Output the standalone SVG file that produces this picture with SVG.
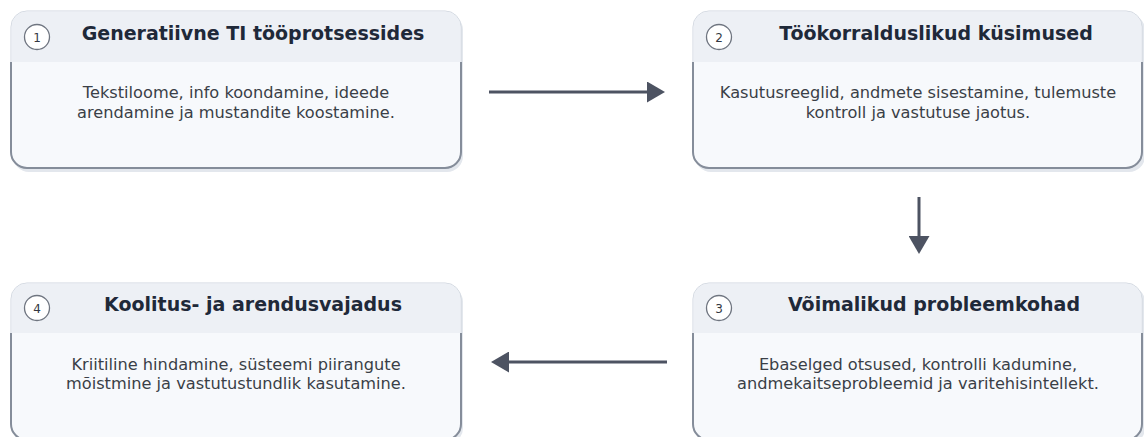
<svg xmlns="http://www.w3.org/2000/svg" width="1144" height="437" viewBox="0 0 1144 437">
<style>
.shadow{fill:#e3e7ed;}
.card{fill:#f7f9fc;stroke:#cfd5de;stroke-width:1;}
.hdr{fill:#edf0f5;}
.edge{fill:none;stroke:#858d9a;stroke-width:2;}
.num{fill:#ffffff;stroke:#6f7580;stroke-width:1.3;}
.numt{font-family:"DejaVu Sans",sans-serif;font-size:12px;fill:#333842;text-anchor:middle;}
.title{font-family:"DejaVu Sans",sans-serif;font-weight:bold;font-size:19px;fill:#1f2939;text-anchor:middle;}
.body{font-family:"DejaVu Sans",sans-serif;font-size:16.2px;fill:#3a3f47;text-anchor:middle;}
.conn{stroke:#4d5362;stroke-width:3;fill:none;}
</style>
<defs>
<marker id="ah" markerWidth="6" markerHeight="7" refX="1" refY="3.5" orient="auto" markerUnits="strokeWidth">
<path d="M0,0 L6,3.5 L0,7 Z" fill="#4d5362"/>
</marker>
</defs>

<g id="node1">
<rect class="shadow" x="13" y="14" width="450" height="158" rx="16"/>
<rect class="card" x="11" y="11" width="450" height="157" rx="16"/>
<path class="hdr" d="M27,11.5 H445 A15.5,15.5 0 0 1 460.5,27 V62 H11.5 V27 A15.5,15.5 0 0 1 27,11.5 Z"/>
<path class="edge" d="M11,62 V152 A16,16 0 0 0 27,168 H445 A16,16 0 0 0 461,152 V62"/>
<circle class="num" cx="37" cy="37" r="12.5"/>
<text class="numt" x="37" y="41.5">1</text>
<text class="title" x="253" y="40">Generatiivne TI tööprotsessides</text>
<text class="body" x="236" y="98">Tekstiloome, info koondamine, ideede</text>
<text class="body" x="236" y="118">arendamine ja mustandite koostamine.</text>
</g>

<g id="node2">
<rect class="shadow" x="695" y="14" width="450" height="158" rx="16"/>
<rect class="card" x="693" y="11" width="449" height="157" rx="16"/>
<path class="hdr" d="M709,11.5 H1126 A15.5,15.5 0 0 1 1141.5,27 V62 H693.5 V27 A15.5,15.5 0 0 1 709,11.5 Z"/>
<path class="edge" d="M693,62 V152 A16,16 0 0 0 709,168 H1126 A16,16 0 0 0 1142,152 V62"/>
<circle class="num" cx="719" cy="37" r="12.5"/>
<text class="numt" x="719" y="41.5">2</text>
<text class="title" x="936" y="40">Töökorralduslikud küsimused</text>
<text class="body" x="918" y="98">Kasutusreeglid, andmete sisestamine, tulemuste</text>
<text class="body" x="918" y="118">kontroll ja vastutuse jaotus.</text>
</g>

<g id="node3">
<rect class="shadow" x="695" y="286" width="450" height="158" rx="16"/>
<rect class="card" x="693" y="283" width="449" height="157" rx="16"/>
<path class="hdr" d="M709,283.5 H1126 A15.5,15.5 0 0 1 1141.5,299 V333 H693.5 V299 A15.5,15.5 0 0 1 709,283.5 Z"/>
<path class="edge" d="M693,333 V424 A16,16 0 0 0 709,440 H1126 A16,16 0 0 0 1142,424 V333"/>
<circle class="num" cx="719" cy="308" r="12.5"/>
<text class="numt" x="719" y="312.5">3</text>
<text class="title" x="934" y="311">Võimalikud probleemkohad</text>
<text class="body" x="918" y="370">Ebaselged otsused, kontrolli kadumine,</text>
<text class="body" x="918" y="389">andmekaitseprobleemid ja varitehisintellekt.</text>
</g>

<g id="node4">
<rect class="shadow" x="13" y="286" width="450" height="158" rx="16"/>
<rect class="card" x="11" y="283" width="450" height="157" rx="16"/>
<path class="hdr" d="M27,283.5 H445 A15.5,15.5 0 0 1 460.5,299 V333 H11.5 V299 A15.5,15.5 0 0 1 27,283.5 Z"/>
<path class="edge" d="M11,333 V424 A16,16 0 0 0 27,440 H445 A16,16 0 0 0 461,424 V333"/>
<circle class="num" cx="37" cy="308" r="12.5"/>
<text class="numt" x="37" y="312.5">4</text>
<text class="title" x="253" y="311">Koolitus- ja arendusvajadus</text>
<text class="body" x="236" y="370">Kriitiline hindamine, süsteemi piirangute</text>
<text class="body" x="236" y="389">mõistmine ja vastutustundlik kasutamine.</text>
</g>

<g id="connectors">
<line class="conn" x1="489" y1="92" x2="650" y2="92" marker-end="url(#ah)"/>
<line class="conn" x1="919" y1="197" x2="919" y2="239" marker-end="url(#ah)"/>
<line class="conn" x1="667" y1="362" x2="506" y2="362" marker-end="url(#ah)"/>
</g>
</svg>
